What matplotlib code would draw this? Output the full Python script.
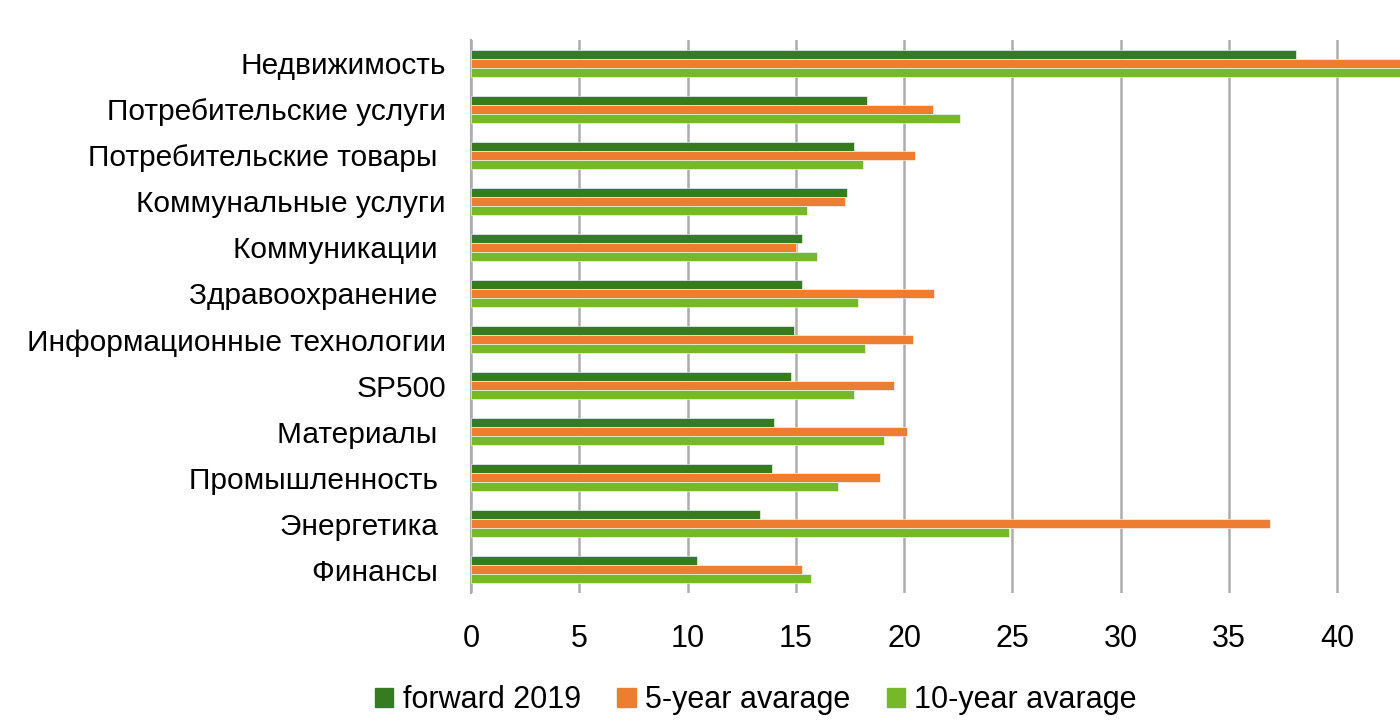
import matplotlib
matplotlib.use("Agg")
from matplotlib import pyplot as plt
from matplotlib.patches import Patch
import numpy as np

plt.rcParams['font.family'] = ['Liberation Sans', 'DejaVu Sans']

# Категории сверху вниз
categories = ['Недвижимость', 'Потребительские услуги', 'Потребительские товары ',
              'Коммунальные услуги', 'Коммуникации ', 'Здравоохранение ',
              'Информационные технологии', 'SP500', 'Материалы ',
              'Промышленность ', 'Энергетика ', 'Финансы ']

forward_2019 = [38.1, 18.3, 17.7, 17.35, 15.3, 15.3, 14.9, 14.8, 14.0, 13.9, 13.35, 10.45]
avg_5y = [44.0, 21.35, 20.5, 17.25, 15.0, 21.4, 20.4, 19.55, 20.15, 18.9, 36.9, 15.3]
avg_10y = [45.0, 22.6, 18.1, 15.5, 16.0, 17.85, 18.2, 17.7, 19.05, 16.95, 24.85, 15.7]

series_names = ['forward 2019', '5-year avarage', '10-year avarage']
colors = ['#367B20', '#ED7D31', '#77B72A']

fig = plt.figure(figsize=(14, 7.21), dpi=100)
ax = fig.add_axes([471 / 1400, 1 - 593 / 721, 1 - 471 / 1400, 553 / 721])

y = np.arange(len(categories))
h = 0.195
for i, (vals, c) in enumerate(zip([forward_2019, avg_5y, avg_10y], colors)):
    ax.barh(y + (i - 1) * h, vals, height=h, color=c, edgecolor='#ffffff',
            linewidth=0.4, zorder=3)

ax.set_ylim(len(categories) - 0.5, -0.5)
ax.set_xlim(0, 42.9)
ax.set_xticks(range(0, 45, 5))
ax.set_yticks(y)
ax.set_yticklabels(categories, fontsize=21.5)
ax.tick_params(axis='y', length=0, pad=18)
ax.tick_params(axis='x', length=0, pad=22, labelsize=22)

ax.grid(axis='x', color='#ADADAD', linewidth=1.8, zorder=0)
for s in ['top', 'right', 'bottom']:
    ax.spines[s].set_visible(False)
ax.spines['left'].set_color('#ADADAD')
ax.spines['left'].set_linewidth(1.5)

handles = [Patch(color=c) for c in colors]
fig.legend(handles, series_names, loc='lower center', ncol=3, frameon=False,
           fontsize=22, handlelength=0.6, handleheight=0.6, handletextpad=0.3,
           columnspacing=1.2, bbox_to_anchor=(0.54, -0.03))

fig.savefig('out.png', dpi=100)
